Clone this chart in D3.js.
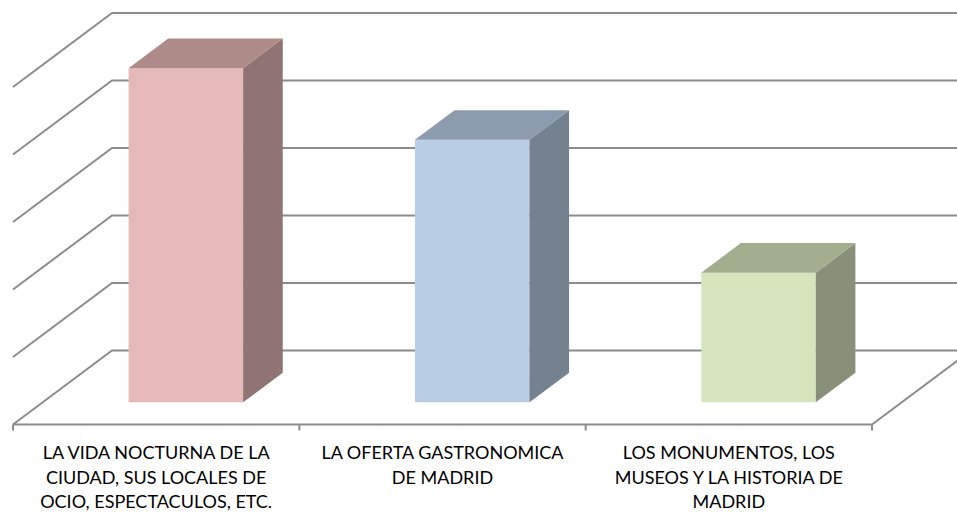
<!DOCTYPE html>
<html>
<head>
<meta charset="utf-8">
<script src="https://cdn.jsdelivr.net/npm/d3@7"></script>
<style>
  body { margin: 0; background: #fff; }
  text { font-family: Lato, "Open Sans", sans-serif; }
</style>
</head>
<body>
<svg id="chart" width="957" height="512"></svg>
<script>
// chart data
var categories = ["vida", "oferta", "monumentos"];
var labels = [
	["LA VIDA NOCTURNA DE LA", "CIUDAD, SUS LOCALES DE", "OCIO, ESPECTACULOS, ETC."],
	["LA OFERTA GASTRONOMICA", "DE MADRID"],
	["LOS MONUMENTOS, LOS", "MUSEOS Y LA HISTORIA DE", "MADRID"]
];
var values = [49.5, 38.9, 19.2];
var gridTicks = [0, 10, 20, 30, 40, 50];

var colors = [
	{ front: "#e5b9b8", top: "#ae8b88", side: "#8f7473" },
	{ front: "#b9cde5", top: "#8c9bae", side: "#74818f" },
	{ front: "#d7e4bd", top: "#a3ae8f", side: "#88907a" }
];

var svg = d3.select("#chart");

// depth vector of the 3d box
var depthX = 99, depthY = 74;

var x = d3.scaleBand()
		.domain(categories)
		.range([13, 872])
		.paddingInner(0);

var y = d3.scaleLinear()
		.domain([0, 50])
		.range([350.5, 13]);

// project a point: front x position, depth z (0 front, 1 back), value v
function proj(xf, z, v) {
	return [xf + z * depthX, y(v) + (1 - z) * depthY];
}

var line = d3.line();
var gridColor = "#8c8c8c";

// back wall + left wall gridlines
var grid = svg.append("g").attr("class", "grid");

gridTicks.forEach(function(t) {
	grid.append("path")
		.attr("d", line([proj(x.range()[0], 0, t), proj(x.range()[0], 1, t),
						 proj(x.range()[1], 1, t)]))
		.attr("fill", "none")
		.attr("stroke", gridColor)
		.attr("stroke-width", 2);
});

// floor edges
grid.append("path")
	.attr("d", line([proj(x.range()[0], 0, 0), proj(x.range()[1], 0, 0),
					 proj(x.range()[1], 1, 0)]))
	.attr("fill", "none")
	.attr("stroke", gridColor)
	.attr("stroke-width", 2);

// tick marks at the category boundaries
var bounds = categories.map(function(c) { return x(c); }).concat([x.range()[1]]);
grid.selectAll(".tick")
	.data(bounds)
	.enter().append("line")
	.attr("x1", function(d) { return d; })
	.attr("x2", function(d) { return d; })
	.attr("y1", proj(0, 0, 0)[1])
	.attr("y2", proj(0, 0, 0)[1] + 6)
	.attr("stroke", gridColor)
	.attr("stroke-width", 2);

// bars
var barW = x.bandwidth() * 0.4;
var z0 = 0.3, z1 = 0.7;

var bars = svg.selectAll(".bar")
	.data(values)
	.enter().append("g")
	.attr("class", "bar");

bars.each(function(v, i) {
	var g = d3.select(this);
	var xl = x(categories[i]) + (x.bandwidth() - barW) / 2;
	var xr = xl + barW;
	var c = colors[i];

	// front face
	g.append("path")
		.attr("d", line([proj(xl, z0, 0), proj(xr, z0, 0), proj(xr, z0, v),
						 proj(xl, z0, v)]) + "Z")
		.attr("fill", c.front);

	// right side face
	g.append("path")
		.attr("d", line([proj(xr, z0, 0), proj(xr, z1, 0), proj(xr, z1, v),
						 proj(xr, z0, v)]) + "Z")
		.attr("fill", c.side);

	// top face
	g.append("path")
		.attr("d", line([proj(xl, z0, v), proj(xr, z0, v), proj(xr, z1, v),
						 proj(xl, z1, v)]) + "Z")
		.attr("fill", c.top);
});

// category labels
var lab = svg.selectAll(".label")
	.data(labels)
	.enter().append("text")
	.attr("class", "label")
	.attr("text-anchor", "middle")
	.attr("font-size", 18)
	.attr("fill", "#000");

lab.each(function(lines, i) {
	var cx = x(categories[i]) + x.bandwidth() / 2;
	d3.select(this).selectAll("tspan")
		.data(lines)
		.enter().append("tspan")
		.attr("x", cx)
		.attr("y", function(d, j) { return 459 + j * 24.5; })
		.text(function(d) { return d; });
});
</script>
</body>
</html>
